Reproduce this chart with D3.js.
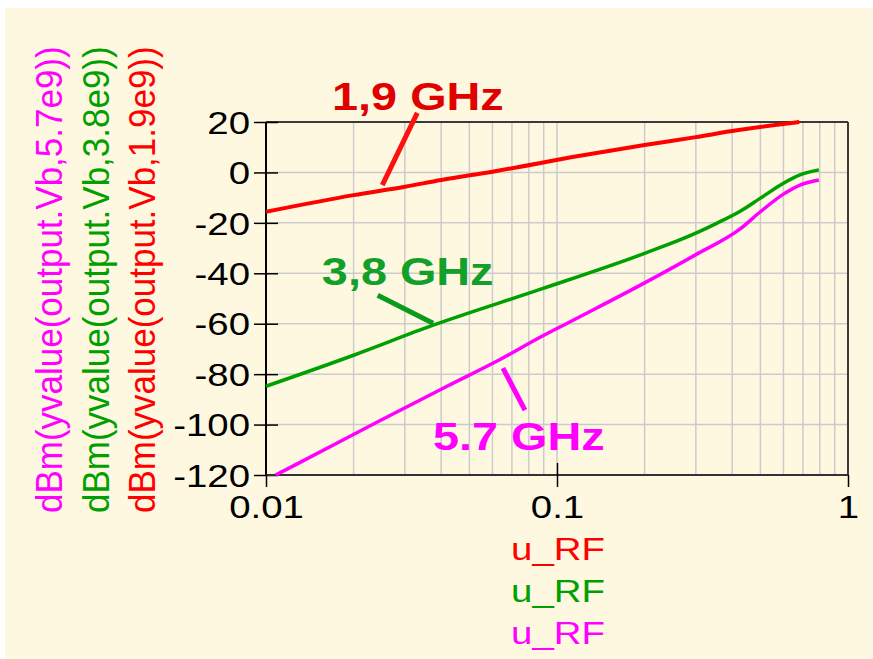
<!DOCTYPE html>
<html>
<head>
<meta charset="utf-8">
<script src="https://cdn.jsdelivr.net/npm/d3@7"></script>
<style>
  body { margin: 0; background: #ffffff; }
  text { font-family: "Liberation Sans", Arial, sans-serif; }
</style>
</head>
<body>
<svg id="chart"></svg>
<script>
var width = 873, height = 659;
var margin = {top: 122, right: 25, bottom: 184, left: 266};
var plotW = width - margin.left - margin.right;
var plotH = height - margin.top - margin.bottom;
var stretch = 1.2; // the source picture is a bit wider than tall

// values
var uRF_19 = [0.01, 0.02, 0.03, 0.04, 0.06, 0.12, 0.2, 0.3, 0.4, 0.6, 0.68];
var dBm_19 = [-15.6, -9.0, -5.7, -3.0, 0.3, 6.6, 10.9, 14, 16.4, 19.2, 20];

var uRF_38 = [0.01, 0.02, 0.0375, 0.0875, 0.2, 0.3, 0.355, 0.426, 0.5, 0.6, 0.684, 0.794];
var dBm_38 = [-84.8, -72.5, -60.6, -46.4, -32.1, -24.1, -20.1, -15.4, -10.2, -4.3, -1.0, 1.0];

var uRF_57 = [0.0108, 0.0131, 0.0246, 0.0419, 0.0637, 0.0875, 0.111, 0.2, 0.3, 0.426, 0.5, 0.6, 0.684, 0.794];
var dBm_57 = [-120, -115, -98.5, -84.8, -74.2, -65.4, -59.2, -43.8, -32.6, -22.4, -15.6, -8.6, -5, -3];

var yTicks = [20, 0, -20, -40, -60, -80, -100, -120];
var xTicks = [0.01, 0.1, 1];
var yLabels = ["dBm(yvalue(output.Vb,5.7e9))", "dBm(yvalue(output.Vb,3.8e9))", "dBm(yvalue(output.Vb,1.9e9))"];
var xLabels = ["u_RF", "u_RF", "u_RF"];

// annotation: label anchor, leader start, leader end (data coords)
var notes = [
  {text: "1,9 GHz", color: "#e00000", line: "#ff1010", tx: 0.01687, ty: 24.8, x1: 0.0331, y1: 23.6, x2: 0.0251, y2: -5.0},
  {text: "3,8 GHz", color: "#12a02a", line: "#0a9a1e", tx: 0.01556, ty: -44.7, x1: 0.0242, y1: -48.7, x2: 0.0375, y2: -59.8},
  {text: "5.7 GHz", color: "#ff00ff", line: "#ff00ff", tx: 0.0375, ty: -110.2, x1: 0.0652, y1: -77.6, x2: 0.0776, y2: -94.3}
];

var series = [
  {u: uRF_57, v: dBm_57, color: "#ff00ff", w: 3.5},
  {u: uRF_38, v: dBm_38, color: "#00a000", w: 3.5},
  {u: uRF_19, v: dBm_19, color: "#ff0000", w: 4}
];
var labelColors = ["#ff00ff", "#00a000", "#ff0000"];

var svg = d3.select("#chart").attr("width", width).attr("height", height);

svg.append("rect")
  .attr("x", 5).attr("y", 8)
  .attr("width", width - 5).attr("height", height - 8)
  .attr("fill", "#fff8e1");

var g = svg.append("g").attr("transform", "translate(" + margin.left + "," + margin.top + ")");

var x = d3.scaleLog().domain([0.01, 1]).range([0, plotW]);
var y = d3.scaleLinear().domain([-120, 20]).range([plotH, 0]);

// grid
var minor = [];
[0.01, 0.1].forEach(function (d) {
  for (var k = 2; k <= 9; k++) minor.push(d * k);
});
minor.push(0.1);
g.selectAll(".vgrid").data(minor).enter().append("line")
  .attr("x1", function (d) { return x(d); }).attr("x2", function (d) { return x(d); })
  .attr("y1", 0).attr("y2", plotH)
  .attr("stroke", "#cbcbcb").attr("stroke-width", 1.5);
g.selectAll(".hgrid").data(yTicks.slice(1, -1)).enter().append("line")
  .attr("x1", 0).attr("x2", plotW)
  .attr("y1", function (d) { return y(d); }).attr("y2", function (d) { return y(d); })
  .attr("stroke", "#cbcbcb").attr("stroke-width", 1.5);

// frame
g.append("line").attr("x1", 0).attr("x2", plotW).attr("y1", 0).attr("y2", 0)
  .attr("stroke", "#3a3a3a").attr("stroke-width", 2);
g.append("line").attr("x1", plotW).attr("x2", plotW).attr("y1", 0).attr("y2", plotH)
  .attr("stroke", "#3a3a3a").attr("stroke-width", 2);

// axes
var yAxis = g.append("g").call(d3.axisLeft(y).tickValues(yTicks)
  .tickFormat(function (d) { return String(d); }).tickSize(12).tickPadding(4));
yAxis.select(".domain").attr("stroke", "#000").attr("stroke-width", 2).attr("d", "M0,0V" + plotH);
yAxis.selectAll(".tick line").attr("x1", 12).attr("x2", -12).attr("stroke", "#000").attr("stroke-width", 1.5);
yAxis.selectAll(".tick text")
  .attr("font-size", 32).attr("fill", "#000")
  .attr("font-family", "Liberation Sans, Arial, sans-serif")
  .attr("x", -16 / stretch).attr("dy", "0.35em")
  .attr("transform", "scale(" + stretch + ",1)");

var xAxis = g.append("g").attr("transform", "translate(0," + plotH + ")")
  .call(d3.axisBottom(x).tickValues(xTicks).tickFormat(function (d) { return String(d); })
    .tickSize(12).tickPadding(8));
xAxis.select(".domain").attr("stroke", "#333").attr("stroke-width", 2).attr("d", "M0,0H" + plotW);
xAxis.selectAll(".tick line").attr("y1", function (d) { return d === 0.1 ? -12 : 0; })
  .attr("stroke", "#000").attr("stroke-width", 1.5);
xAxis.selectAll(".tick text")
  .attr("font-size", 32).attr("fill", "#000")
  .attr("font-family", "Liberation Sans, Arial, sans-serif")
  .attr("x", 0).attr("y", 20).attr("dy", "0.71em")
  .attr("transform", "scale(" + stretch + ",1)");

// curves
var line = d3.line().curve(d3.curveMonotoneX);
series.forEach(function (s) {
  var pts = s.u.map(function (u, i) { return [x(u), y(s.v[i])]; });
  g.append("path").attr("d", line(pts))
    .attr("fill", "none").attr("stroke", s.color).attr("stroke-width", s.w)
    .attr("stroke-linejoin", "round");
});

// annotations
notes.forEach(function (n) {
  g.append("line")
    .attr("x1", x(n.x1)).attr("y1", y(n.y1))
    .attr("x2", x(n.x2)).attr("y2", y(n.y2))
    .attr("stroke", n.line).attr("stroke-width", 5);
  g.append("text")
    .attr("transform", "translate(" + x(n.tx) + "," + y(n.ty) + ") scale(" + stretch + ",1)")
    .attr("font-size", 39).attr("font-weight", "bold").attr("fill", n.color)
    .text(n.text);
});

// rotated y titles
yLabels.forEach(function (t, i) {
  svg.append("text")
    .attr("transform", "translate(" + (62 + i * 46.5) + ",513) scale(1.08,1) rotate(-90)")
    .attr("font-size", 35).attr("fill", labelColors[i])
    .text(t);
});

// x titles
xLabels.forEach(function (t, i) {
  svg.append("text")
    .attr("transform", "translate(558," + (560 + i * 42) + ") scale(" + stretch + ",1)")
    .attr("text-anchor", "middle")
    .attr("font-size", 32).attr("fill", labelColors[2 - i])
    .text(t);
});
</script>
</body>
</html>
